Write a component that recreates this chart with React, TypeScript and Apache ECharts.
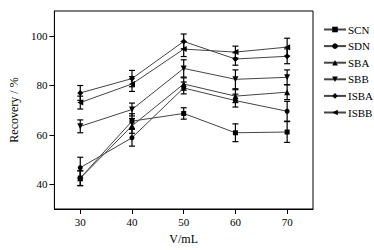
import React, { useEffect, useRef } from "react";
import * as echarts from "echarts";

const volumes = [30, 40, 50, 60, 70];
const seriesNames = ["SCN", "SDN", "SBA", "SBB", "ISBA", "ISBB"];
const scnValues = [42.5, 65.5, 68.6, 60.8, 61.1];
const sdnValues = [46.7, 58.8, 78.9, 73.8, 69.5];
const sbaValues = [42.4, 63.6, 80.5, 75.6, 77.2];
const sbbValues = [63.4, 70.2, 86.8, 82.4, 83.2];
const isbaValues = [76.9, 82.7, 97.7, 90.6, 91.7];
const isbbValues = [73.0, 80.5, 94.6, 93.4, 95.4];
const scnErrors = [3.0, 3.0, 2.3, 3.6, 4.2];
const sdnErrors = [4.2, 3.4, 2.4, 2.6, 4.0];
const sbaErrors = [3.0, 3.0, 2.5, 2.6, 3.0];
const sbbErrors = [2.6, 2.6, 3.5, 3.8, 3.0];
const isbaErrors = [3.0, 3.3, 3.0, 2.5, 3.0];
const isbbErrors = [2.6, 3.0, 3.0, 2.4, 3.6];
const yTicks = [40, 60, 80, 100];
const xTicks = [30, 40, 50, 60, 70];

export default function App() {
  const ref = useRef<HTMLDivElement>(null);
  useEffect(() => {
    const chart = echarts.init(ref.current!, undefined, { renderer: "svg" });
    const values = [scnValues, sdnValues, sbaValues, sbbValues, isbaValues, isbbValues];
    const errors = [scnErrors, sdnErrors, sbaErrors, sbbErrors, isbaErrors, isbbErrors];
    const symbols: any[] = ["rect", "circle", "triangle", "triangle", "diamond", "triangle"];
    const rotations = [0, 0, 0, 180, 0, 90];
    const sizes = [5, 5, 6, 6, 6, 6];
    const font = "'Liberation Serif', 'Times New Roman', serif";

    const lineSeries = seriesNames.map((name, i) => ({
      name,
      type: "line",
      data: volumes.map((v, j) => [v, values[i][j]]),
      symbol: symbols[i],
      symbolSize: sizes[i],
      symbolRotate: rotations[i],
      showAllSymbol: true,
      lineStyle: { color: "#444", width: 1 },
      itemStyle: { color: "#000" },
      z: 3,
    }));

    const errSeries = seriesNames.map((name, i) => ({
      name: name + "-err",
      type: "custom",
      data: volumes.map((v, j) => [v, values[i][j] - errors[i][j], values[i][j] + errors[i][j]]),
      renderItem: (params: any, api: any) => {
        const x = api.value(0);
        const lo = api.coord([x, api.value(1)]);
        const hi = api.coord([x, api.value(2)]);
        const cw = 3;
        const style = { stroke: "#000", lineWidth: 1.2 };
        return {
          type: "group",
          children: [
            { type: "line", shape: { x1: lo[0], y1: lo[1], x2: hi[0], y2: hi[1] }, style },
            { type: "line", shape: { x1: lo[0] - cw, y1: lo[1], x2: lo[0] + cw, y2: lo[1] }, style },
            { type: "line", shape: { x1: hi[0] - cw, y1: hi[1], x2: hi[0] + cw, y2: hi[1] }, style },
          ],
        };
      },
      z: 2,
      silent: true,
    }));

    chart.setOption({
      animation: false,
      backgroundColor: "#fff",
      textStyle: { fontFamily: font },
      grid: { left: 45, top: 11, right: 61, bottom: 40, show: true, borderColor: "#000", borderWidth: 1 },
      legend: {
        data: seriesNames,
        orient: "vertical",
        left: 318,
        top: 19,
        itemWidth: 22,
        itemHeight: 7,
        itemGap: 5.6,
        textStyle: { fontFamily: font, fontSize: 11, color: "#000", padding: [0, 0, 0, -3] },
      },
      xAxis: {
        type: "value",
        min: 25,
        max: 75,
        name: "V/mL",
        nameLocation: "middle",
        nameGap: 24,
        nameTextStyle: { fontFamily: font, fontSize: 12, color: "#000" },
        axisLine: { lineStyle: { color: "#000" } },
        axisTick: { inside: false, length: 5, customValues: xTicks, lineStyle: { color: "#000" } },
        axisLabel: { customValues: xTicks, fontFamily: font, fontSize: 11, color: "#000", margin: 7 },
        splitLine: { show: false },
      },
      yAxis: {
        type: "value",
        min: 30,
        max: 110,
        name: "Recovery / %",
        nameLocation: "middle",
        nameGap: 29,
        nameTextStyle: { fontFamily: font, fontSize: 12, color: "#000" },
        axisLine: { show: true, lineStyle: { color: "#000" } },
        axisTick: { show: true, inside: false, length: 5, customValues: yTicks, lineStyle: { color: "#000" } },
        axisLabel: { customValues: yTicks, fontFamily: font, fontSize: 11, color: "#000", margin: 7 },
        splitLine: { show: false },
      },
      series: [...errSeries, ...lineSeries],
    });
    return () => chart.dispose();
  }, []);
  return <div ref={ref} style={{ width: 374, height: 250, position: "absolute", left: 0, top: 0 }} />;
}
